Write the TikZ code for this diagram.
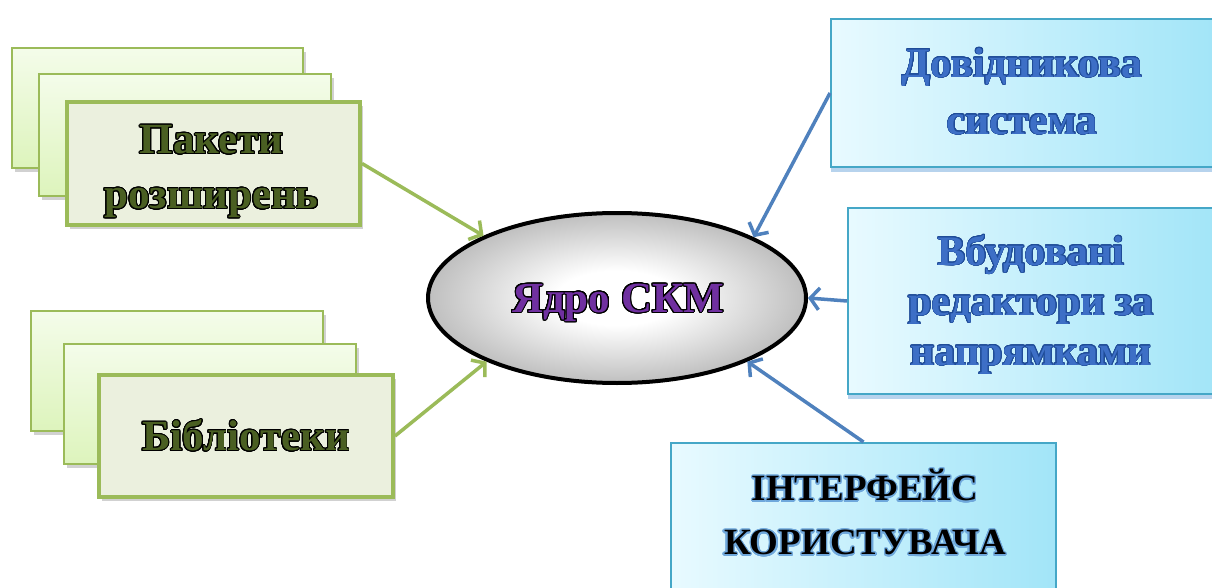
\documentclass[tikz,border=0pt]{standalone}
\usepackage{fontspec}
\setmainfont{Liberation Serif}
\usepackage{contour}
\contournumber{24}
\usetikzlibrary{arrows.meta,shapes.geometric,shadows}
\definecolor{grn}{HTML}{9BBB59}
\definecolor{grnfill}{HTML}{EBF0DE}
\definecolor{grntop}{HTML}{F4FCEA}
\definecolor{grnbot}{HTML}{DDF4BC}
\definecolor{txtgreen}{HTML}{4A5F22}
\definecolor{blu}{HTML}{4F81BD}
\definecolor{bluborder}{HTML}{45A7C7}
\definecolor{blul}{HTML}{E8FAFF}
\definecolor{blur}{HTML}{A2E5F8}
\definecolor{bluetxt}{HTML}{3D6FC6}
\definecolor{bluedark}{HTML}{1F4C98}
\definecolor{glow}{HTML}{6FA8DC}
\definecolor{purp}{HTML}{7030A0}
\pgfdeclareradialshading{coreshade}{\pgfpoint{0bp}{0bp}}{color(0bp)=(white); color(8bp)=(white); color(35bp)=(black!40); color(50bp)=(black!45)}
\newcommand\gtext[1]{\contourlength{0.9pt}\contour{black}{\textcolor{txtgreen}{#1}}}
\newcommand\btext[1]{\contourlength{0.7pt}\contour{bluedark}{\textcolor{bluetxt}{#1}}}
\newcommand\ktext[1]{\contourlength{1.2pt}\contour{glow}{\textcolor{black}{#1}}}
\newcommand\ptext[1]{\contourlength{1pt}\contour{black}{\textcolor{purp}{#1}}}
\begin{document}
\begin{tikzpicture}[x=1pt,y=-1pt,
  gback/.style={draw=grn, line width=2pt, top color=grntop, bottom color=grnbot,
    anchor=north west, drop shadow={shadow xshift=3pt, shadow yshift=-4pt, opacity=0.3, fill=black!60}},
  gfront/.style={draw=grn, line width=4pt, fill=grnfill, anchor=north west, align=center,
    font={\bfseries\fontsize{43}{55}\selectfont},
    drop shadow={shadow xshift=3pt, shadow yshift=-4pt, opacity=0.3, fill=black!60}},
  gtxt/.style={font={\bfseries\fontsize{43}{55}\selectfont}, align=center},
  bbox/.style={draw=bluborder, line width=2pt, left color=blul, right color=blur,
    anchor=north west,
    drop shadow={shadow xshift=0pt, shadow yshift=-5pt, opacity=0.5, fill=glow}},
  core/.style={ellipse, draw=black, line width=4pt, shading=coreshade},
  garrow/.style={draw=grn, line width=3.5pt, -{Straight Barb[length=9pt,width=22pt]}},
  barrow/.style={draw=blu, line width=3.5pt, -{Straight Barb[length=9pt,width=22pt]}}
]
\useasboundingbox (0,0) rectangle (1212,588);

% top-left stack
\node[gback, minimum width=291pt, minimum height=120pt] (pa) at (11,47) {};
\node[gback, minimum width=292pt, minimum height=122pt] (pb) at (38,73) {};
\node[gfront, minimum width=293pt, minimum height=123pt] (p) at (65,100) {};
\node[gtxt] (pt) at (211.5,172) {\gtext{Пакети}\\\gtext{розширень}};

% bottom-left stack
\node[gback, minimum width=292pt, minimum height=120pt] (ba) at (30,310) {};
\node[gback, minimum width=292pt, minimum height=120pt] (bb) at (63,343) {};
\node[gfront, minimum width=294pt, minimum height=122pt] (b) at (97,373)
  {\gtext{Бібліотеки}};

% core
\node[core, minimum width=378pt, minimum height=170pt] (core) at (617,298) {};
\node[font={\bfseries\fontsize{43}{50}\selectfont}] (coret) at (618,303) {\ptext{Ядро СКМ}};

% right boxes
\node[bbox, minimum width=386pt, minimum height=148pt] (rt) at (830,18) {};
\node[font={\bfseries\fontsize{42}{57}\selectfont}, align=center] (rtt) at (1022,91.5)
  {\btext{Довідникова}\\\btext{система}};
\node[bbox, minimum width=370pt, minimum height=186pt] (mr) at (847,207) {};
\node[font={\bfseries\fontsize{42}{50}\selectfont}, align=center] (mrt) at (1031,305)
  {\btext{Вбудовані}\\\btext{редактори за}\\\btext{напрямками}};
\node[bbox, minimum width=385pt, minimum height=170pt] (ui) at (670,442) {};
\node[font={\bfseries\fontsize{37}{54}\selectfont}, align=center] (uit) at (865,513)
  {\ktext{ІНТЕРФЕЙС}\\\ktext{КОРИСТУВАЧА}};

% arrows
\draw[garrow] (p.east) -- (core.155.9);
\draw[garrow] (b.east) -- (core.206.6);
\draw[barrow] (rt.west) -- (core.24.3);
\draw[barrow] (mr.west) -- (core.east);
\draw[barrow] (ui.north) -- (core.334.1);
\end{tikzpicture}
\end{document}
